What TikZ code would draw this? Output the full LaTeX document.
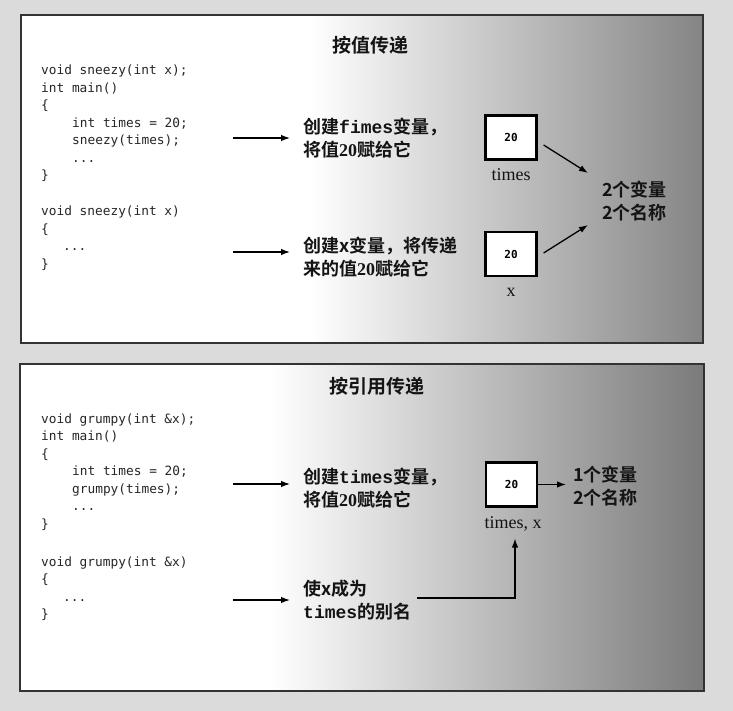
\documentclass[tikz,border=0pt]{standalone}
\usepackage{fontspec}
\setmainfont{Liberation Serif}
\newfontfamily\cjk{Noto Sans CJK SC Bold}
\newfontfamily\lmono{Liberation Mono}
\newfontfamily\codefont{DejaVu Sans Mono}
\usetikzlibrary{arrows.meta}
\tikzset{
  code/.style={anchor=west, inner sep=0pt, text height=9pt, text depth=3pt,
    font=\codefont\fontsize{12.8}{15}\selectfont, text=black!85},
  ctext/.style={anchor=west, inner sep=0pt, align=left, text=black!92,
    font=\cjk\fontsize{18}{23}\selectfont},
  ctitle/.style={inner sep=0pt, text=black!92, font=\cjk\fontsize{19}{23}\selectfont},
  valbox/.style={draw=black, line width=2.2pt, fill=white, inner sep=0pt,
    minimum width=51pt, minimum height=44pt,
    font=\codefont\bfseries\fontsize{11}{13}\selectfont},
  vlabel/.style={inner sep=0pt, text=black!92, font=\fontsize{18}{20}\selectfont},
  arr/.style={line width=1.3pt, -{Latex[length=9pt,width=6.5pt]}},
  panel/.style={draw=black!80, line width=1.6pt},
}
\newcommand{\monob}[1]{{\lmono\bfseries #1}}
\newcommand{\serifb}[1]{{\rmfamily\bfseries #1}}
\begin{document}
\begin{tikzpicture}[x=1pt,y=-1pt]
\useasboundingbox (0,0) rectangle (733,711);
\fill[black!14] (0,0) rectangle (733,711);

% ---------- top panel ----------
\fill[white] (21,15) rectangle (703,343);
\shade[left color=white, right color=black!48] (310,15) rectangle (703,343);
\draw[panel] (21,15) rectangle (703,343);

\node[ctitle] (title1) at (370,45) {按值传递};

\node[code] (c1) at (41,72) {void sneezy(int x);};
\node[code] (c2) at (41,89.5) {int main()};
\node[code] (c3) at (41,107) {\{};
\node[code] (c4) at (72,124.5) {int times = 20;};
\node[code] (c5) at (72,142) {sneezy(times);};
\node[code] (c6) at (72,159.5) {...};
\node[code] (c7) at (41,177) {\}};
\node[code] (c8) at (41,213) {void sneezy(int x)};
\node[code] (c9) at (41,230.5) {\{};
\node[code] (c10) at (63,248) {...};
\node[code] (c11) at (41,265.5) {\}};

\node[ctext] (t1) at (303,138) {创建\monob{fimes}变量，\\将值\serifb{20}赋给它};
\node[ctext] (t2) at (303,257) {创建x变量，将传递\\来的值\serifb{20}赋给它};

\coordinate (a1) at (233,138);
\coordinate (a2) at (233,252);
\draw[arr, shorten >=13pt] (a1) -- (t1.west);
\draw[arr] (a2) -- (a2 -| 290,0);

\node[valbox] (b1) at (511,137.5) {20};
\node[valbox] (b2) at (511,254) {20};
\node[vlabel] (l1) at (511,175) {times};
\node[vlabel] (l2) at (511,292) {x};

\node[ctext] (n2) at (602,201) {2个变量\\2个名称};
\draw[arr] ([shift={(6,7.5)}]b1.east) -- ([shift={(-14,-28)}]n2.west);
\draw[arr] ([shift={(6,-1)}]b2.east) -- ([shift={(-14,24)}]n2.west);

% ---------- bottom panel ----------
\fill[white] (20,364) rectangle (704,691);
\shade[left color=white, right color=black!52] (270,364) rectangle (704,691);
\draw[panel] (20,364) rectangle (704,691);

\node[ctitle] (title2) at (377,386) {按引用传递};

\node[code] (d1) at (41,420) {void grumpy(int \&x);};
\node[code] (d2) at (41,437.5) {int main()};
\node[code] (d3) at (41,455) {\{};
\node[code] (d4) at (72,472.5) {int times = 20;};
\node[code] (d5) at (72,490) {grumpy(times);};
\node[code] (d6) at (72,507.5) {...};
\node[code] (d7) at (41,525) {\}};
\node[code] (d8) at (41,563) {void grumpy(int \&x)};
\node[code] (d9) at (41,580.5) {\{};
\node[code] (d10) at (63,598) {...};
\node[code] (d11) at (41,615.5) {\}};

\node[ctext] (t3) at (303,488) {创建\monob{times}变量，\\将值\serifb{20}赋给它};
\node[ctext] (t4) at (303,600) {使x成为\\\monob{times}的别名};

\coordinate (a3) at (233,484);
\coordinate (a4) at (233,600);
\draw[arr] (a3) -- (a3 -| 290,0);
\draw[arr, shorten >=13pt] (a4) -- (t4.west);

\node[valbox] (b3) at (511.5,484.5) {20};
\node[vlabel] (l3) at (513,524) {times, x};
\node[ctext] (n3) at (573,486) {1个变量\\2个名称};
\draw[arr, shorten >=7pt] (b3.east) -- (b3.east -| n3.west);
\draw[arr] ([xshift=6pt]t4.east |- 0,598) -| ([shift={(2,7)}]l3.south);
\end{tikzpicture}
\end{document}
